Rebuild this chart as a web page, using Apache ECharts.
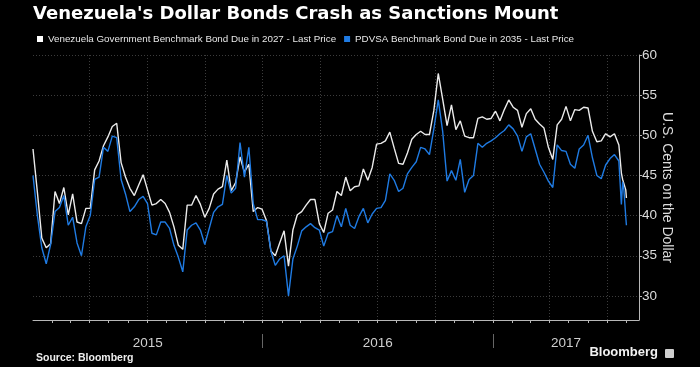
<!DOCTYPE html>
<html><head><meta charset="utf-8">
<script src="https://cdn.jsdelivr.net/npm/echarts@6/dist/echarts.min.js"></script>
<style>html,body{margin:0;padding:0;background:#000;}#c{width:700px;height:367px;}</style>
</head><body><div id="c"></div>
<script>
const titleText = "Venezuela's Dollar Bonds Crash as Sanctions Mount";
const seriesNames = ["Venezuela Government Benchmark Bond Due in 2027 - Last Price", "PDVSA Benchmark Bond Due in 2035 - Last Price"];
const yAxisName = "U.S. Cents on the Dollar";
const sourceText = "Source: Bloomberg";
const yTicks = [30, 35, 40, 45, 50, 55, 60];
const yearLabels = ["2015", "2016", "2017"];
const xStart = "2015-01-01", xEnd = "2017-08-21";

const dates = [
"2015-01-01","2015-01-08","2015-01-15","2015-01-22","2015-01-29","2015-02-05","2015-02-12","2015-02-19","2015-02-26","2015-03-05",
"2015-03-12","2015-03-19","2015-03-26","2015-04-02","2015-04-09","2015-04-16","2015-04-23","2015-04-30","2015-05-07","2015-05-14",
"2015-05-21","2015-05-28","2015-06-04","2015-06-11","2015-06-18","2015-06-25","2015-07-02","2015-07-09","2015-07-16","2015-07-23",
"2015-07-30","2015-08-06","2015-08-13","2015-08-20","2015-08-27","2015-09-03","2015-09-10","2015-09-17","2015-09-24","2015-10-01",
"2015-10-08","2015-10-15","2015-10-22","2015-10-29","2015-11-05","2015-11-12","2015-11-19","2015-11-26","2015-12-03","2015-12-10",
"2015-12-17","2015-12-24","2015-12-31","2016-01-07","2016-01-14","2016-01-21","2016-01-28","2016-02-04","2016-02-11","2016-02-18",
"2016-02-25","2016-03-03","2016-03-10","2016-03-17","2016-03-24","2016-03-31","2016-04-07","2016-04-14","2016-04-21","2016-04-28",
"2016-05-05","2016-05-12","2016-05-19","2016-05-26","2016-06-02","2016-06-09","2016-06-16","2016-06-23","2016-06-30","2016-07-07",
"2016-07-14","2016-07-21","2016-07-28","2016-08-04","2016-08-11","2016-08-18","2016-08-25","2016-09-01","2016-09-08","2016-09-15",
"2016-09-22","2016-09-29","2016-10-06","2016-10-13","2016-10-20","2016-10-27","2016-11-03","2016-11-10","2016-11-17","2016-11-24",
"2016-12-01","2016-12-08","2016-12-15","2016-12-22","2016-12-29","2017-01-05","2017-01-12","2017-01-19","2017-01-26","2017-02-02",
"2017-02-09","2017-02-16","2017-02-23","2017-03-02","2017-03-09","2017-03-16","2017-03-23","2017-03-30","2017-04-06","2017-04-13",
"2017-04-20","2017-04-27","2017-05-04","2017-05-11","2017-05-18","2017-05-25","2017-06-01","2017-06-08","2017-06-15","2017-06-22",
"2017-06-29","2017-07-06","2017-07-13","2017-07-20","2017-07-24","2017-07-26","2017-07-28","2017-07-31","2017-08-01"
];

const gov2027 = [
48.3,42.9,37.2,36.0,36.5,43.0,41.5,43.5,40.1,42.7,
39.2,39.0,40.9,40.9,45.7,46.8,48.7,49.8,51.1,51.5,
46.6,44.8,43.4,42.5,43.8,45.1,43.2,41.3,41.5,42.0,
41.5,40.4,38.6,36.3,35.8,41.3,41.3,42.5,41.4,39.8,
40.9,42.7,43.3,43.6,46.9,43.1,44.1,47.3,45.4,46.4,
40.5,41.0,40.8,39.4,35.6,35.0,36.6,38.1,33.7,38.2,
40.1,40.5,41.3,42.0,42.0,39.0,37.9,40.3,40.7,43.0,
42.5,44.8,43.1,43.6,43.7,45.8,44.4,46.0,48.9,49.0,
49.3,50.4,48.4,46.5,46.4,47.8,49.5,50.1,50.5,50.1,
50.1,53.1,57.7,54.5,51.2,53.8,50.7,51.8,49.9,49.7,
49.7,52.1,52.3,52.0,52.1,53.0,51.8,53.2,54.4,53.5,
53.1,51.0,52.7,53.3,52.0,51.4,50.9,48.5,47.0,51.3,
52.0,53.6,51.8,53.2,53.1,53.5,53.4,50.5,49.2,49.3,
50.2,49.8,50.2,48.8,45.3,44.5,44.6,43.2,42.2
];

const pdvsa2035 = [
45.0,40.0,36.0,34.0,36.4,40.5,41.0,42.5,38.8,39.8,
36.6,35.0,38.6,40.0,44.5,44.8,48.5,48.0,49.9,49.7,
44.5,42.7,40.5,41.1,42.0,42.4,41.5,37.8,37.6,39.2,
39.2,38.4,36.3,34.8,33.0,38.2,38.8,39.1,38.2,36.4,
38.4,40.4,41.1,41.4,45.0,42.8,43.4,49.1,44.8,48.5,
41.5,39.5,39.5,39.3,35.6,33.8,34.6,35.0,30.0,34.6,
36.2,38.1,38.6,39.0,38.5,38.2,36.2,37.8,38.0,40.0,
38.6,40.9,38.8,38.4,39.9,40.9,39.1,40.2,40.9,41.0,
41.9,45.2,44.4,43.0,43.4,45.2,46.0,46.7,48.5,48.3,
47.6,50.8,54.4,50.5,44.3,45.6,44.4,47.0,42.9,44.5,
45.0,49.0,48.5,49.0,49.3,49.7,50.2,50.6,51.3,50.8,
49.9,48.0,49.8,50.2,48.3,46.4,45.4,44.3,43.5,48.8,
48.1,48.0,46.4,45.9,48.3,48.8,50.0,47.2,45.0,44.6,
46.3,47.1,47.6,46.8,41.4,44.2,43.2,39.8,38.8
];

function ts(s) { const p = s.split('-').map(Number); return new Date(p[0], p[1] - 1, p[2]).getTime(); }
const tMin = ts(xStart), tMax = ts(xEnd);
const monthTicks = [], quarterTicks = [];
for (let y = 2015; y <= 2017; y++) for (let m = 0; m < 12; m++) {
  const t = new Date(y, m, 1).getTime();
  if (t > tMin && t <= tMax) { monthTicks.push(t); if (m % 3 === 0) quarterTicks.push(t); }
}
const yearBounds = yearLabels.slice(1).map(y => new Date(+y, 0, 1).getTime());
const yearCenters = yearLabels.map(y => {
  const a = Math.max(tMin, new Date(+y, 0, 1).getTime());
  const b = Math.min(tMax, new Date(+y + 1, 0, 1).getTime());
  return (a + b) / 2;
});

const FONT = "'Liberation Sans', Arial, sans-serif";
const TITLE_FONT = "'DejaVu Sans', 'Liberation Sans', sans-serif";
const NARROW = "'Liberation Sans Narrow', 'Liberation Sans', sans-serif";
const gridColor = '#3c3c3c';
const axisColor = '#b8b8b8';

const chart = echarts.init(document.getElementById('c'), null, { renderer: 'canvas' });
chart.setOption({
  backgroundColor: '#000',
  animation: false,
  textStyle: { fontFamily: FONT },
  title: [
    { text: titleText, left: 28, top: 0,
      textStyle: { color: '#fff', fontSize: 18, fontWeight: 'bold', fontFamily: TITLE_FONT } },
    { text: sourceText, left: 31, top: 348,
      textStyle: { color: '#eee', fontSize: 10.5, fontWeight: 'bold', fontFamily: FONT } }
  ],
  legend: {
    left: 32, top: 29, icon: 'rect', itemWidth: 6, itemHeight: 6, itemGap: 8,
    textStyle: { color: '#e6e6e6', fontSize: 9.8, fontFamily: FONT },
    data: seriesNames
  },
  grid: { left: 33, right: 61, top: 55, bottom: 47, containLabel: false },
  xAxis: [
    { type: 'value', min: tMin, max: tMax, position: 'bottom', scale: true,
      axisLine: { show: true, onZero: false, lineStyle: { color: axisColor, width: 1 } },
      axisTick: { show: true, customValues: monthTicks, length: 3, lineStyle: { color: axisColor } },
      axisLabel: { show: false }, splitLine: { show: false } },
    { type: 'value', min: tMin, max: tMax, position: 'bottom', scale: true,
      axisLine: { show: false, onZero: false },
      axisTick: { show: false, customValues: quarterTicks },
      axisLabel: { show: false },
      splitLine: { show: true, lineStyle: { color: gridColor, width: 1, type: [1, 2] } } },
    { type: 'value', min: tMin, max: tMax, position: 'bottom', offset: 14, scale: true,
      axisLine: { show: false, onZero: false },
      axisTick: { show: true, customValues: yearBounds, length: 14, lineStyle: { color: '#666' } },
      axisLabel: { show: true, customValues: yearCenters, margin: 2,
        formatter: v => String(new Date(v).getFullYear()),
        color: '#cfcfcf', fontSize: 13.5, fontFamily: NARROW },
      splitLine: { show: false } }
  ],
  yAxis: {
    type: 'value', position: 'right', min: 27, max: 60,
    axisLine: { show: true, lineStyle: { color: axisColor, width: 1 } },
    axisTick: { show: true, customValues: yTicks, length: 3, lineStyle: { color: axisColor } },
    axisLabel: { show: true, customValues: yTicks, color: '#dcdcdc', fontSize: 13.5, margin: 3, fontFamily: NARROW },
    splitLine: { show: true, lineStyle: { color: gridColor, width: 1, type: [1, 2] } },
    name: yAxisName, nameLocation: 'middle', nameRotate: -90, nameGap: 21, nameMoveOverlap: false,
    nameTextStyle: { color: '#dcdcdc', fontSize: 14, fontFamily: FONT }
  },
  series: [
    { name: seriesNames[0], type: 'line', xAxisIndex: 0,
      data: dates.map((d, i) => [ts(d), gov2027[i]]),
      showSymbol: false, symbol: 'none',
      lineStyle: { color: '#ebebeb', width: 1.4 }, itemStyle: { color: '#ffffff' } },
    { name: seriesNames[1], type: 'line', xAxisIndex: 0,
      data: dates.map((d, i) => [ts(d), pdvsa2035[i]]),
      showSymbol: false, symbol: 'none',
      lineStyle: { color: '#1f7be3', width: 1.4 }, itemStyle: { color: '#1f7be3' } }
  ],
  graphic: [
    { type: 'text', right: 42, top: 346,
      style: { text: 'Bloomberg', fill: '#f2f2f2', fontSize: 13, fontWeight: 'bold', fontFamily: FONT } },
    { type: 'rect', right: 26, top: 349, shape: { width: 9, height: 9, r: 1 }, style: { fill: '#cfcfcf' } }
  ]
});
</script></body></html>
